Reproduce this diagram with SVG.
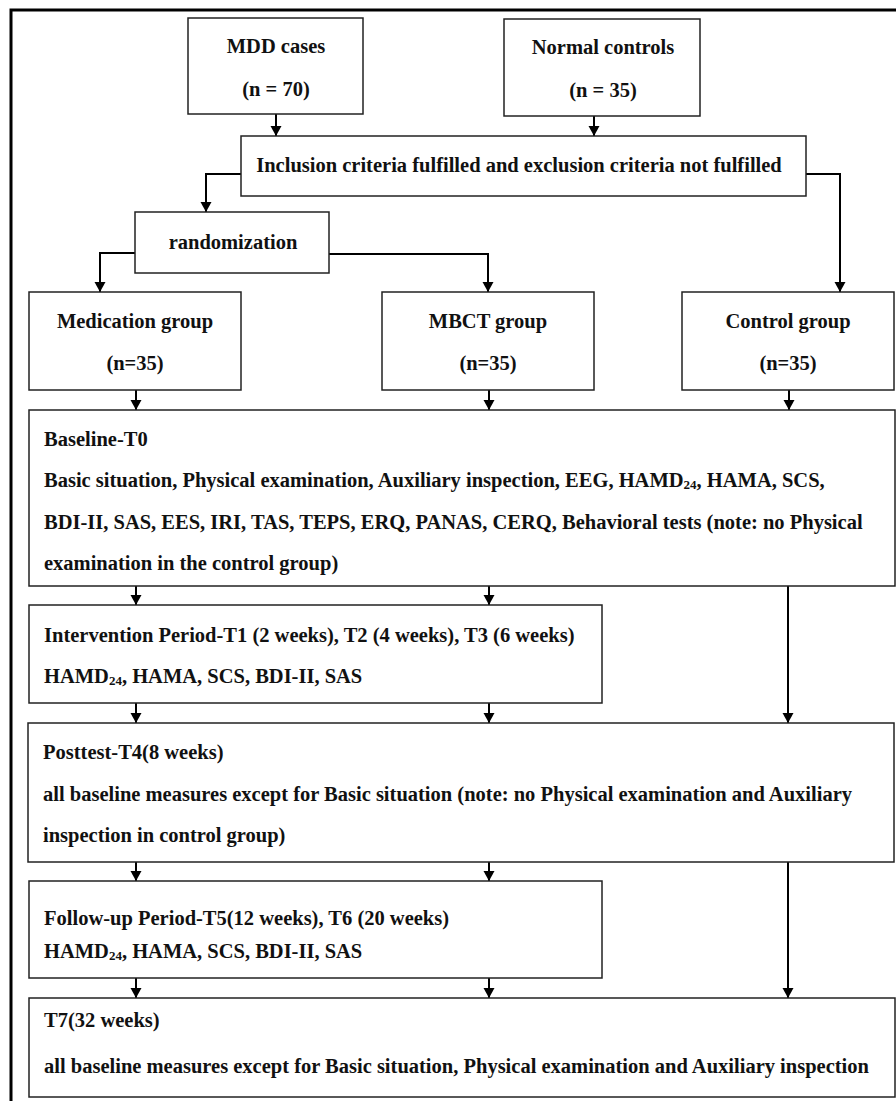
<svg xmlns="http://www.w3.org/2000/svg" width="896" height="1101" viewBox="0 0 896 1101">
<defs>
<marker id="ah" markerUnits="userSpaceOnUse" markerWidth="10" markerHeight="11" refX="10" refY="5.5" orient="auto" viewBox="0 0 10 11" overflow="visible">
<path d="M0,0 L10,5.5 L0,11 Z" fill="#000"/>
</marker>
</defs>
<style>
.box{fill:#fff;stroke:#222;stroke-width:1.5}
.t{font-family:"Liberation Serif","Times New Roman",serif;font-weight:bold;font-size:20.5px;fill:#111}
.c{text-anchor:middle}
.sub{font-size:13px}
.con{fill:none;stroke:#000;stroke-width:2}
.arr{marker-end:url(#ah)}
</style>
<rect width="896" height="1101" fill="#fff"/>
<path d="M11,1101 L11,10 L896,10" fill="none" stroke="#000" stroke-width="3"/>

<g id="connectors">
<path class="con arr" d="M276,114 V136"/>
<path class="con arr" d="M594,116 V136"/>
<path class="con arr" d="M241,174 H206 V212"/>
<path class="con arr" d="M806,174 H840 V292"/>
<path class="con arr" d="M135,253 H100 V292"/>
<path class="con arr" d="M329,254 H488 V292"/>
<path class="con arr" d="M136,390 V410"/>
<path class="con arr" d="M489,390 V410"/>
<path class="con arr" d="M789,390 V410"/>
<path class="con arr" d="M136,586 V605"/>
<path class="con arr" d="M489,586 V605"/>
<path class="con arr" d="M788,586 V723"/>
<path class="con arr" d="M136,703 V723"/>
<path class="con arr" d="M489,703 V723"/>
<path class="con arr" d="M136,862 V881"/>
<path class="con arr" d="M489,862 V881"/>
<path class="con arr" d="M788,862 V998"/>
<path class="con arr" d="M136,978 V998"/>
<path class="con arr" d="M489,978 V998"/>
</g>

<g id="mdd">
<rect class="box" x="188" y="18" width="175" height="96"/>
<text class="t c" x="276" y="53">MDD cases</text>
<text class="t c" x="276" y="96">(n = 70)</text>
</g>
<g id="normal">
<rect class="box" x="504" y="19" width="196" height="97"/>
<text class="t c" x="603" y="54">Normal controls</text>
<text class="t c" x="603" y="97">(n = 35)</text>
</g>
<g id="inclusion">
<rect class="box" x="241" y="136" width="565" height="60"/>
<text class="t c" x="519" y="172">Inclusion criteria fulfilled and exclusion criteria not fulfilled</text>
</g>
<g id="randomization">
<rect class="box" x="135" y="212" width="194" height="61"/>
<text class="t c" x="233" y="249">randomization</text>
</g>
<g id="medication">
<rect class="box" x="29" y="292" width="212" height="98"/>
<text class="t c" x="135" y="328">Medication group</text>
<text class="t c" x="135" y="370">(n=35)</text>
</g>
<g id="mbct">
<rect class="box" x="382" y="292" width="212" height="98"/>
<text class="t c" x="488" y="328">MBCT group</text>
<text class="t c" x="488" y="370">(n=35)</text>
</g>
<g id="control">
<rect class="box" x="682" y="292" width="212" height="98"/>
<text class="t c" x="788" y="328">Control group</text>
<text class="t c" x="788" y="370">(n=35)</text>
</g>
<g id="baseline">
<rect class="box" x="29" y="410" width="866" height="176"/>
<text class="t" x="44" y="446">Baseline-T0</text>
<text class="t" x="44" y="487">Basic situation, Physical examination, Auxiliary inspection, EEG, HAMD<tspan class="sub" dy="2">24</tspan><tspan dy="-2">, HAMA, SCS,</tspan></text>
<text class="t" x="44" y="529">BDI-II, SAS, EES, IRI, TAS, TEPS, ERQ, PANAS, CERQ, Behavioral tests (note: no Physical</text>
<text class="t" x="44" y="570">examination in the control group)</text>
</g>
<g id="intervention">
<rect class="box" x="29" y="605" width="573" height="98"/>
<text class="t" x="44" y="642">Intervention Period-T1 (2 weeks), T2 (4 weeks), T3 (6 weeks)</text>
<text class="t" x="44" y="683">HAMD<tspan class="sub" dy="2">24</tspan><tspan dy="-2">, HAMA, SCS, BDI-II, SAS</tspan></text>
</g>
<g id="posttest">
<rect class="box" x="28" y="723" width="866" height="139"/>
<text class="t" x="43" y="759">Posttest-T4(8 weeks)</text>
<text class="t" x="43" y="801">all baseline measures except for Basic situation (note: no Physical examination and Auxiliary</text>
<text class="t" x="43" y="842">inspection in control group)</text>
</g>
<g id="followup">
<rect class="box" x="29" y="881" width="573" height="97"/>
<text class="t" x="44" y="925">Follow-up Period-T5(12 weeks), T6 (20 weeks)</text>
<text class="t" x="44" y="958">HAMD<tspan class="sub" dy="2">24</tspan><tspan dy="-2">, HAMA, SCS, BDI-II, SAS</tspan></text>
</g>
<g id="t7">
<rect class="box" x="29" y="998" width="866" height="99"/>
<text class="t" x="44" y="1027">T7(32 weeks)</text>
<text class="t" x="44" y="1073">all baseline measures except for Basic situation, Physical examination and Auxiliary inspection</text>
</g>
</svg>
